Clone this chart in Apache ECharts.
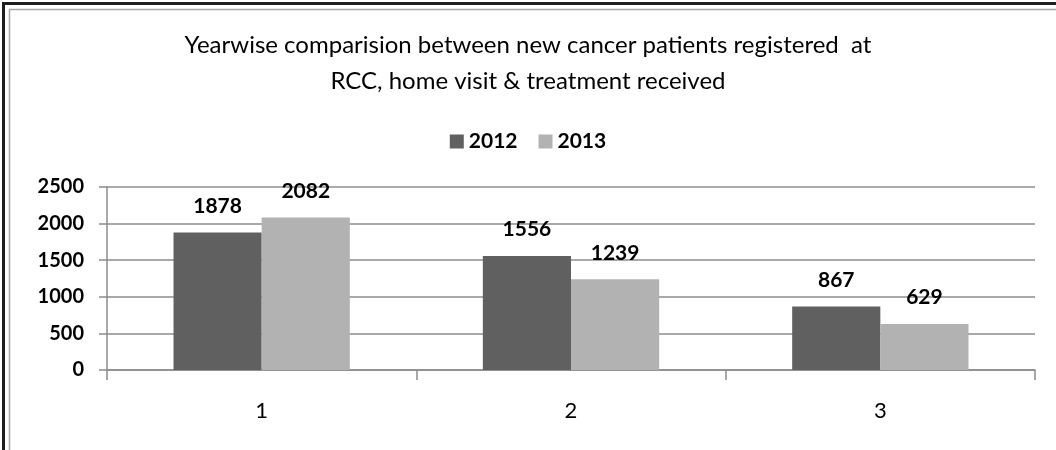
<!DOCTYPE html>
<html>
<head>
<meta charset="utf-8">
<script src="https://cdn.jsdelivr.net/npm/echarts@6/dist/echarts.min.js"></script>
<style>
html,body{margin:0;padding:0;background:#fff;}
#chart{width:1056px;height:450px;}
</style>
</head>
<body>
<div id="chart"></div>
<script>
const titleText = "Yearwise comparision between new cancer patients registered  at\nRCC, home visit & treatment received";
const categories = ["1", "2", "3"];
const seriesNames = ["2012", "2013"];
const values2012 = [1878, 1556, 867];
const values2013 = [2082, 1239, 629];
const yTicks = [0, 500, 1000, 1500, 2000, 2500];

const FONT = "Lato";
const chart = echarts.init(document.getElementById('chart'), null, {renderer: 'canvas'});
const labelStyle = {show: true, position: 'top', distance: 16, color: '#000', fontFamily: FONT, fontWeight: 'bold', fontSize: 21};
chart.setOption({
  animation: false,
  backgroundColor: '#fff',
  graphic: [
    {type: 'rect', shape: {x: 3.5, y: 3.5, width: 1200, height: 600}, style: {fill: 'none', stroke: '#1e1e1e', lineWidth: 3}, silent: true},
    {type: 'rect', shape: {x: 9.5, y: 9.5, width: 1200, height: 600}, style: {fill: 'none', stroke: '#a8a8a8', lineWidth: 1.5}, silent: true}
  ],
  title: {
    text: titleText,
    left: 'center',
    top: 22,
    textStyle: {fontFamily: FONT, fontSize: 24, fontWeight: 'normal', color: '#000', lineHeight: 36}
  },
  legend: {
    data: seriesNames,
    left: 'center',
    top: 126,
    itemWidth: 14,
    itemHeight: 14,
    itemGap: 21,
    icon: 'rect',
    textStyle: {fontFamily: FONT, fontSize: 21, fontWeight: 'bold', color: '#000', padding: [0, 0, 0, 0]}
  },
  grid: {left: 107, right: 21, top: 187, bottom: 80, containLabel: false},
  xAxis: {
    type: 'category',
    data: categories,
    axisLine: {lineStyle: {color: '#8c8c8c', width: 1.5}},
    axisTick: {show: true, length: 10, alignWithLabel: false, lineStyle: {color: '#8c8c8c', width: 1.5}},
    axisLabel: {margin: 30, color: '#000', fontFamily: FONT, fontSize: 22}
  },
  yAxis: {
    type: 'value',
    min: yTicks[0],
    max: yTicks[yTicks.length - 1],
    interval: 500,
    axisLine: {show: true, lineStyle: {color: '#8c8c8c', width: 1.5}},
    axisTick: {show: true, length: 8, lineStyle: {color: '#8c8c8c', width: 1.5}},
    splitLine: {lineStyle: {color: '#8c8c8c', width: 1.5}},
    axisLabel: {margin: 23, color: '#000', fontFamily: FONT, fontSize: 20, fontWeight: 'bold', formatter: function (v) { return String(v); }}
  },
  series: [
    {name: seriesNames[0], type: 'bar', data: values2012, barGap: '0%', barCategoryGap: '43%', itemStyle: {color: '#606060'}, label: labelStyle},
    {name: seriesNames[1], type: 'bar', data: values2013, barGap: '0%', barCategoryGap: '43%', itemStyle: {color: '#b2b2b2'}, label: labelStyle}
  ]
});
</script>
</body>
</html>
